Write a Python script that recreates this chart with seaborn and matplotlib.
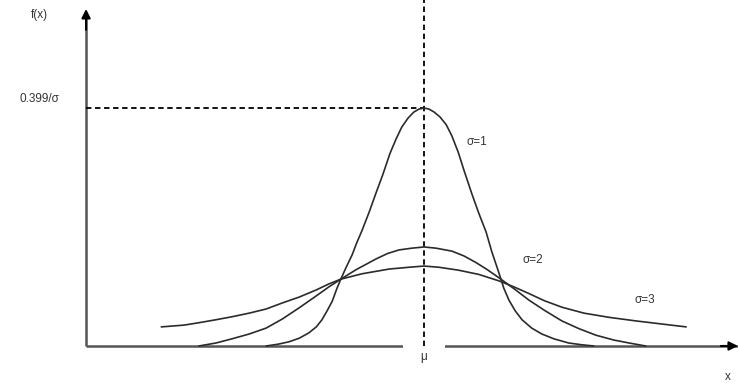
import numpy as np
import pandas as pd
import matplotlib
matplotlib.use('Agg')
import matplotlib.pyplot as plt
import seaborn as sns

# --- values (x in units of sigma=1 from mu, y as f(x)) ---
sigma1_x = [-2.77, -2.56, -2.37, -2.19, -2.02, -1.89, -1.79, -1.70, -1.61, -1.53, -1.46, -1.37,
            -1.26, -1.18, -1.09, -0.96, -0.84, -0.72, -0.60, -0.49, -0.39, -0.28, -0.18, -0.09, 0.0,
            0.09, 0.18, 0.28, 0.39, 0.49, 0.60, 0.70, 0.84, 0.96, 1.09, 1.19, 1.32, 1.40, 1.49,
            1.60, 1.72, 1.89, 2.07, 2.28, 2.54, 2.77, 2.98]
sigma1_y = [0.0, 0.003, 0.007, 0.013, 0.022, 0.032, 0.044, 0.059, 0.075, 0.096, 0.112, 0.131,
            0.153, 0.173, 0.193, 0.225, 0.257, 0.288, 0.322, 0.347, 0.367, 0.382, 0.392, 0.397, 0.399,
            0.397, 0.392, 0.384, 0.371, 0.352, 0.325, 0.295, 0.255, 0.223, 0.191, 0.158, 0.121, 0.097, 0.077,
            0.059, 0.044, 0.030, 0.020, 0.012, 0.005, 0.002, 0.0]

sigma2_x = [-3.95, -3.65, -3.37, -3.07, -2.77, -2.49, -2.19, -1.89, -1.67, -1.46, -1.19, -0.84,
            -0.64, -0.44, -0.21, 0.0, 0.21, 0.49, 0.70, 0.91, 1.11, 1.32, 1.58, 1.84, 2.11, 2.42, 2.72,
            3.02, 3.33, 3.60, 3.89]
sigma2_y = [0.0, 0.005, 0.012, 0.020, 0.030, 0.045, 0.064, 0.084, 0.099, 0.112, 0.128, 0.146,
            0.155, 0.161, 0.164, 0.166, 0.164, 0.159, 0.151, 0.140, 0.128, 0.114, 0.096, 0.077, 0.060, 0.042, 0.029,
            0.018, 0.010, 0.005, 0.0]

sigma3_x = [-4.61, -4.21, -3.95, -3.65, -3.37, -3.07, -2.77, -2.49, -2.19, -1.89, -1.67, -1.46,
            -1.09, -0.61, -0.26, 0.0, 0.26, 0.61, 0.96, 1.32, 1.58, 1.84, 2.11, 2.42, 2.81, 3.25,
            3.72, 4.16, 4.60]
sigma3_y = [0.032, 0.035, 0.039, 0.044, 0.049, 0.055, 0.062, 0.072, 0.082, 0.094, 0.104, 0.112,
            0.121, 0.129, 0.132, 0.134, 0.132, 0.127, 0.120, 0.109, 0.099, 0.088, 0.076, 0.065, 0.055, 0.048,
            0.042, 0.037, 0.032]

curve_labels = ['\u03c3=1', '\u03c3=2', '\u03c3=3']
peak_label = '0.399/\u03c3'

sns.set_theme(style='white')
plt.rcParams['font.family'] = ['Liberation Sans', 'DejaVu Sans']

df = pd.concat([
    pd.DataFrame({'x': sigma1_x, 'y': sigma1_y, 'curve': curve_labels[0]}),
    pd.DataFrame({'x': sigma2_x, 'y': sigma2_y, 'curve': curve_labels[1]}),
    pd.DataFrame({'x': sigma3_x, 'y': sigma3_y, 'curve': curve_labels[2]}),
])

fig = plt.figure(figsize=(7.38, 3.85), dpi=100)
ax = fig.add_axes([0, 0, 1, 1])

sns.lineplot(data=df, x='x', y='y', units='curve', estimator=None, sort=False,
             color='#2b2b2b', linewidth=1.2, ax=ax, zorder=4)
for ln in ax.get_lines():
    ln.set_solid_joinstyle('round')

x_lo, x_hi = -7.44, 5.51
y_lo, y_hi = -0.0654, 0.580
ax.set_xlim(x_lo, x_hi)
ax.set_ylim(y_lo, y_hi)
ax.axis('off')

# axes with arrow heads
y_axis_x = -5.93
ax.plot([y_axis_x, x_hi], [0, 0], color='#555555', lw=1.8, zorder=1, solid_capstyle='butt')
ax.annotate('', xy=(x_hi, 0), xytext=(x_hi - 0.3, 0),
            arrowprops=dict(arrowstyle='-|>', color='black', lw=1.5, mutation_scale=13,
                            shrinkA=0, shrinkB=0), zorder=2)
ax.plot([y_axis_x, y_axis_x], [0, 0.55], color='#555555', lw=1.8, zorder=1, solid_capstyle='butt')
ax.annotate('', xy=(y_axis_x, 0.565), xytext=(y_axis_x, 0.53),
            arrowprops=dict(arrowstyle='-|>', color='black', lw=1.5, mutation_scale=13,
                            shrinkA=0, shrinkB=0), zorder=2)

# dashed guides at mu and at the peak height
ax.plot([0, 0], [0, y_hi], color='black', lw=1.3, ls=(0, (3, 2)), zorder=3)
ax.plot([y_axis_x, 0], [0.399, 0.399], color='black', lw=1.3, ls=(0, (3, 2)), zorder=3)

txt = dict(color='#333333', fontsize=8.5, ha='center', va='center')
ax.text(-6.74, 0.555, 'f(x)', **txt)
ax.text(-6.74, 0.414, peak_label, **txt)
ax.text(0.93, 0.342, curve_labels[0], **txt)
ax.text(1.91, 0.144, curve_labels[1], **txt)
ax.text(3.88, 0.077, curve_labels[2], **txt)
ax.text(5.33, -0.052, 'x', **txt)
ax.text(0.0, -0.018, '\u03bc', zorder=2.5,
        bbox=dict(boxstyle='square,pad=1.5', fc='white', ec='none'), **txt)

fig.savefig('out.png', dpi=100)
